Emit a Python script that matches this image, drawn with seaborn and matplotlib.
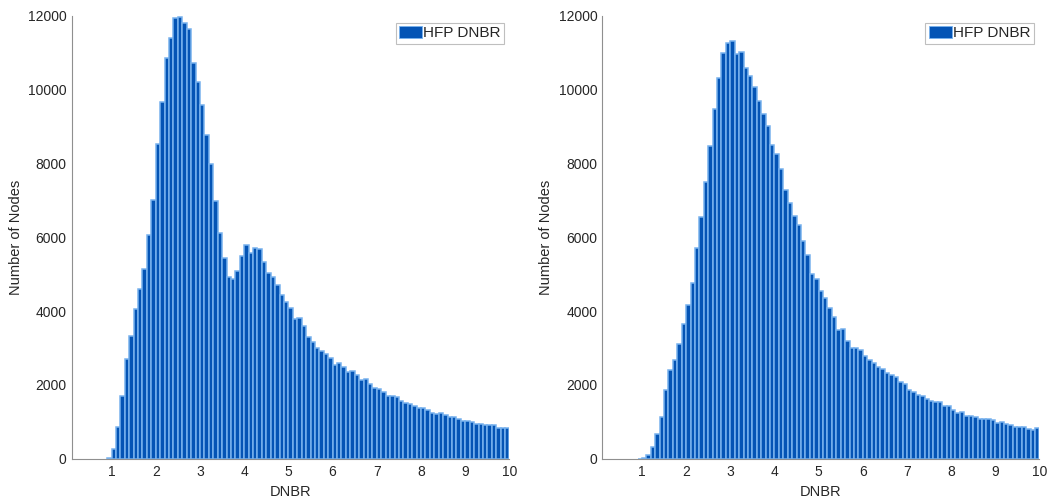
import numpy as np
import pandas as pd
import matplotlib
matplotlib.use("Agg")
import matplotlib.pyplot as plt
from matplotlib.patches import Patch
import seaborn as sns

# Histogram bins: 0.1 wide, centres 0.95 ... 9.95
bin_centers = np.round(np.arange(0.95, 10.0, 0.1), 2)
bin_range = (0.9, 10.0)
n_bins = len(bin_centers)

# Node counts per DNBR bin, case A (left panel)
counts_left = [
    30, 263, 867, 1708, 2694, 3326, 4050, 4609, 5151, 6073,
    7005, 8523, 9661, 10854, 11396, 11938, 11965, 11802, 11640, 10735,
    10212, 9588, 8775, 7980, 6986, 6109, 5449, 4917, 4863, 5088,
    5495, 5785, 5585, 5700, 5684, 5341, 5026, 4917, 4709, 4446,
    4256, 4077, 3779, 3822, 3605, 3307, 3172, 3009, 2928, 2830,
    2722, 2540, 2586, 2494, 2358, 2380, 2280, 2120, 2155, 2017,
    1908, 1889, 1805, 1695, 1705, 1681, 1556, 1502, 1483, 1429,
    1374, 1383, 1311, 1239, 1203, 1230, 1176, 1130, 1130, 1068,
    1022, 1022, 995, 949, 949, 922, 922, 905, 841, 841,
    832,
]

# Node counts per DNBR bin, case B (right panel)
counts_right = [
    0, 20, 92, 325, 661, 1139, 1862, 2404, 2667, 3109,
    3651, 4166, 4763, 5703, 6543, 7492, 8477, 9480, 10328, 10990,
    11261, 11323, 10971, 11025, 10591, 10374, 10067, 9697, 9344, 9019,
    8504, 8251, 7845, 7292, 6931, 6579, 6343, 5901, 5513, 5015,
    4871, 4554, 4356, 4077, 3841, 3481, 3508, 3199, 3001, 3001,
    2938, 2792, 2675, 2603, 2486, 2432, 2331, 2269, 2210, 2075,
    2038, 1858, 1820, 1726, 1710, 1609, 1556, 1529, 1529, 1420,
    1420, 1311, 1230, 1266, 1166, 1166, 1122, 1085, 1076, 1076,
    1040, 968, 986, 932, 922, 868, 868, 868, 805, 769,
    841,
]

x_ticks = list(range(1, 11))
y_ticks = list(range(0, 12001, 2000))
series_label = "HFP DNBR"
x_label = "DNBR"
y_label = "Number of Nodes"

sns.set_style("white")
plt.rcParams["font.family"] = ["Liberation Sans", "DejaVu Sans"]

BAR_FACE = "#0454b5"
BAR_EDGE = "#78b2ee"
SPINE = "#8f8f8f"
TEXT = "#262626"

fig = plt.figure(figsize=(10.52, 5.03), dpi=100)
ax_left = fig.add_axes([0.0682, 0.0881, 0.4161, 0.8801])
ax_right = fig.add_axes([0.5725, 0.0881, 0.4155, 0.8801])

for ax, counts in ((ax_left, counts_left), (ax_right, counts_right)):
    df = pd.DataFrame({"dnbr": bin_centers, "nodes": np.asarray(counts, dtype=float)})
    sns.histplot(
        data=df, x="dnbr", weights="nodes", bins=n_bins, binrange=bin_range,
        ax=ax, color=BAR_FACE, edgecolor=BAR_EDGE, linewidth=1.1, alpha=1.0,
    )
    ax.set_xlim(0.1, 10)
    ax.set_ylim(0, 12000)
    ax.set_xticks(x_ticks)
    ax.set_yticks(y_ticks)
    ax.tick_params(axis="both", direction="in", length=3, width=0.8,
                   color=SPINE, labelcolor=TEXT, labelsize=10)
    ax.tick_params(axis="y", pad=3.6)
    ax.tick_params(axis="x", pad=4.6)
    for side in ("top", "right"):
        ax.spines[side].set_visible(False)
    for side in ("left", "bottom"):
        ax.spines[side].set_color(SPINE)
        ax.spines[side].set_linewidth(0.8)

    ax.set_xlabel(x_label, fontsize=10.5, color=TEXT)
    ax.set_ylabel(y_label, fontsize=10.5, color=TEXT)
    ax.xaxis.set_label_coords(0.5, -0.075)
    ax.xaxis.label.set_va("center")
    ax.yaxis.set_label_coords(-0.128, 0.5)
    ax.yaxis.label.set_va("center")

    handle = Patch(facecolor=BAR_FACE, edgecolor=BAR_EDGE, linewidth=0.6)
    leg = ax.legend(
        [handle], [series_label], loc="upper right",
        bbox_to_anchor=(0.988, 0.985), fontsize=11, frameon=True,
        fancybox=False, borderpad=0.22, handlelength=1.5, handleheight=0.85,
        handletextpad=0.1, borderaxespad=0.0,
    )
    leg.get_frame().set_edgecolor("#b0b0b0")
    leg.get_frame().set_linewidth(0.8)

fig.savefig("out.png", dpi=100)
